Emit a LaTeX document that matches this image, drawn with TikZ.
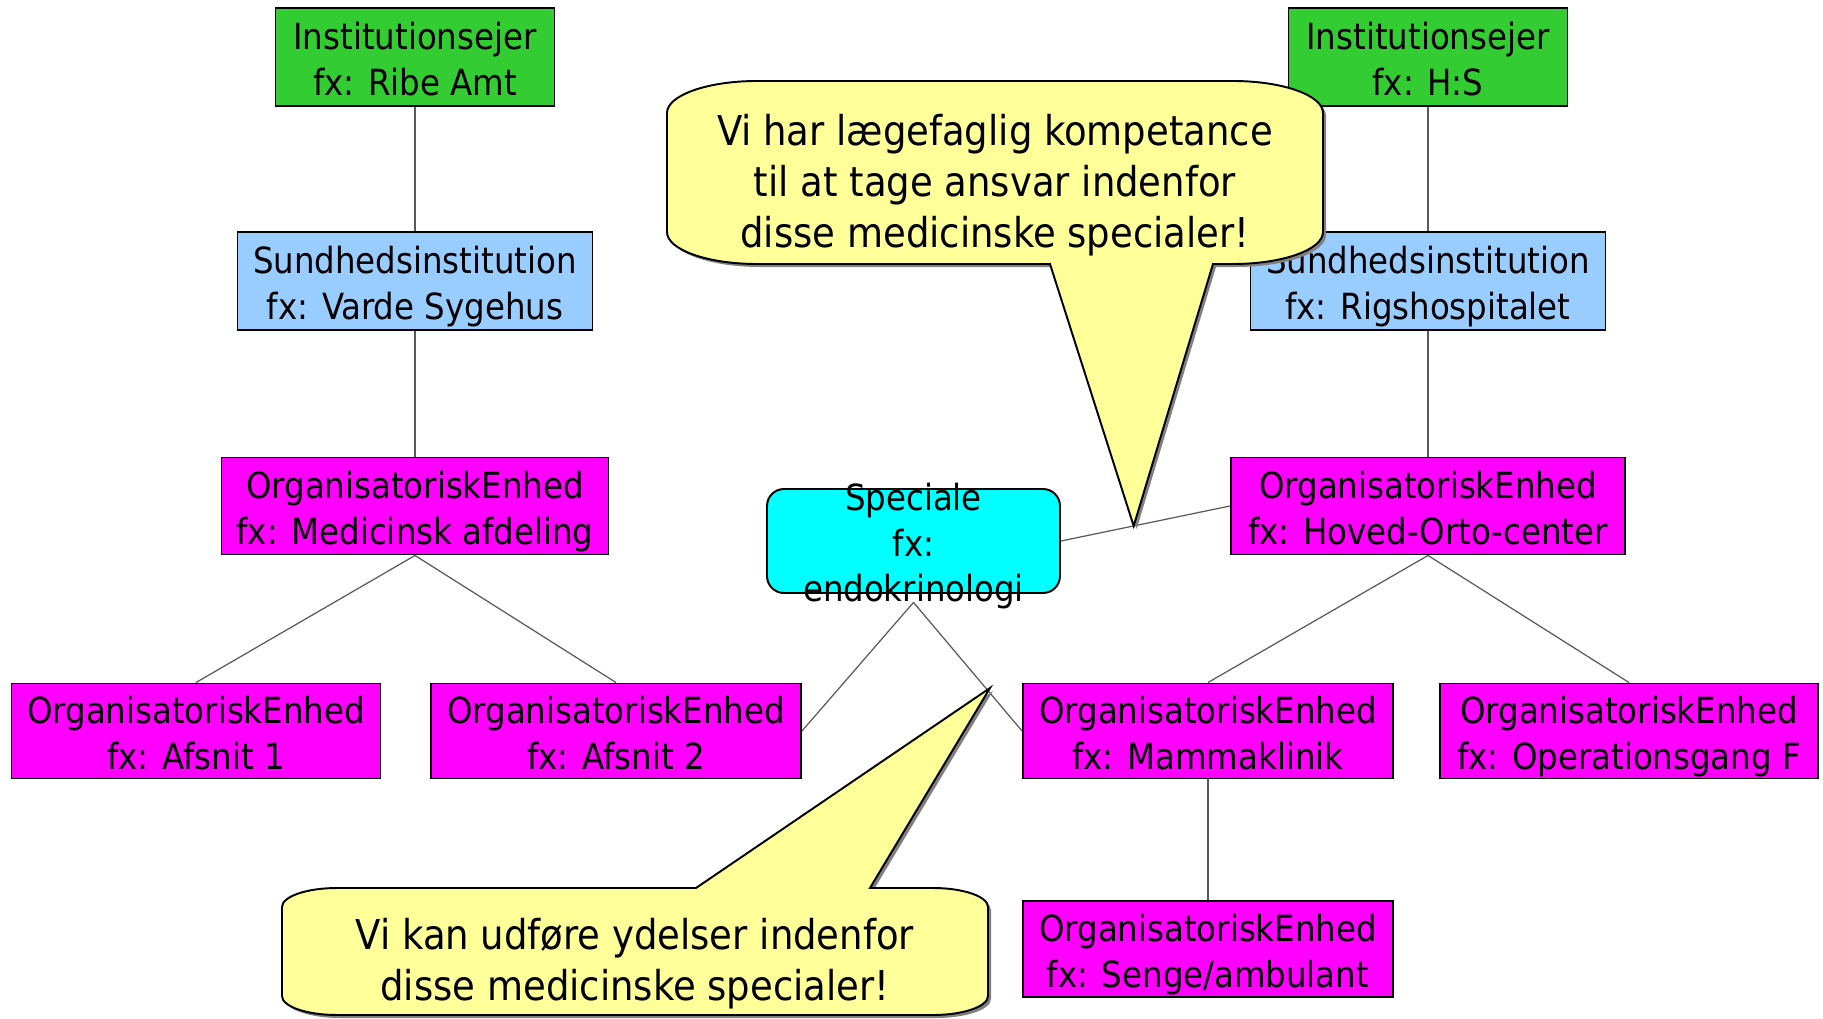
\documentclass[tikz,border=0pt]{standalone}
\usepackage{fontspec}
\setmainfont{DejaVu Sans Condensed}
\usepackage{tikz}
\usetikzlibrary{shadows,calc}
\usepackage{xcolor}
\definecolor{ejergreen}{RGB}{51,204,51}
\definecolor{instblue}{RGB}{153,204,255}
\definecolor{orgmagenta}{RGB}{255,0,255}
\definecolor{speccyan}{RGB}{0,255,255}
\definecolor{bubbleyellow}{RGB}{255,255,153}

\begin{document}
\begin{tikzpicture}[
    box/.style={draw, rectangle, line width=0.55pt, align=center, inner sep=1pt,
        font=\fontsize{10.25pt}{12.9pt}\selectfont, text height=21.7pt, text depth=0pt},
    conn/.style={draw=black!65, line width=0.35pt},
    bubble/.style={draw, line width=0.55pt, fill=bubbleyellow,
        drop shadow={shadow xshift=0.03cm, shadow yshift=-0.03cm, fill=black!50, opacity=1}},
    bubbletext/.style={align=center, inner sep=0pt, font=\fontsize{11.7pt}{14.5pt}\selectfont}
]
    \useasboundingbox (0,0) rectangle (18.23,-10.19);

    % left tree
    \node[box, fill=ejergreen, minimum width=2.79cm, minimum height=0.98cm] (ejer1) at (4.15,-0.57) {Institutionsejer\\fx: Ribe Amt};
    \node[box, fill=instblue, minimum width=3.55cm, minimum height=0.98cm] (inst1) at (4.15,-2.81) {Sundhedsinstitution\\fx: Varde Sygehus};
    \node[box, fill=orgmagenta, minimum width=3.87cm, minimum height=0.97cm] (org1) at (4.15,-5.06) {OrganisatoriskEnhed\\fx: Medicinsk afdeling};
    \node[box, fill=orgmagenta, minimum width=3.69cm, minimum height=0.95cm] (afsnit1) at (1.96,-7.31) {OrganisatoriskEnhed\\fx: Afsnit 1};
    \node[box, fill=orgmagenta, minimum width=3.70cm, minimum height=0.95cm] (afsnit2) at (6.16,-7.31) {OrganisatoriskEnhed\\fx: Afsnit 2};

    % right tree
    \node[box, fill=ejergreen, minimum width=2.79cm, minimum height=0.98cm] (ejer2) at (14.28,-0.57) {Institutionsejer\\fx: H:S};
    \node[box, fill=instblue, minimum width=3.55cm, minimum height=0.98cm] (inst2) at (14.28,-2.81) {Sundhedsinstitution\\fx: Rigshospitalet};
    \node[box, fill=orgmagenta, minimum width=3.94cm, minimum height=0.97cm] (org2) at (14.28,-5.06) {OrganisatoriskEnhed\\fx: Hoved-Orto-center};
    \node[box, fill=orgmagenta, minimum width=3.70cm, minimum height=0.95cm] (mamma) at (12.08,-7.31) {OrganisatoriskEnhed\\fx: Mammaklinik};
    \node[box, fill=orgmagenta, minimum width=3.78cm, minimum height=0.95cm] (opgang) at (16.29,-7.31) {OrganisatoriskEnhed\\fx: Operationsgang F};
    \node[box, fill=orgmagenta, minimum width=3.70cm, minimum height=0.965cm] (senge) at (12.08,-9.49) {OrganisatoriskEnhed\\fx: Senge/ambulant};

    % speciale
    \node[draw, rectangle, rounded corners=0.17cm, line width=0.55pt, fill=speccyan, minimum width=2.93cm, minimum height=1.04cm] (spec) at (9.135,-5.41) {};
    \node[box, draw=none, inner sep=0pt, text height=34.4pt] (spectext) at (9.135,-5.41) {Speciale\\fx:\\endokrinologi};

    \draw[conn] (ejer1) -- (inst1);
    \draw[conn] (inst1) -- (org1);
    \draw[conn] (org1.south) -- (afsnit1.north);
    \draw[conn] (org1.south) -- (afsnit2.north);
    \draw[conn] (ejer2) -- (inst2);
    \draw[conn] (inst2) -- (org2);
    \draw[conn] (org2.south) -- (mamma.north);
    \draw[conn] (org2.south) -- (opgang.north);
    \draw[conn] (mamma) -- (senge);
    \draw[conn] (spectext.south) -- (afsnit2.east);
    \draw[conn] (spectext.south) -- (mamma.west);
    \draw[conn] (spec.east) -- (org2.west);

    % callouts
    \coordinate (tip1) at ($(spec.east)!0.43!(org2.west)$);
    \coordinate (tip2) at (9.90,-6.88);

    \filldraw[bubble] (10.50,-2.64) -- (7.57,-2.64)
        arc[start angle=270, end angle=180, x radius=0.9, y radius=0.32] -- (6.67,-1.13)
        arc[start angle=180, end angle=90, x radius=0.9, y radius=0.32] -- (12.33,-0.81)
        arc[start angle=90, end angle=0, x radius=0.9, y radius=0.32] -- (13.23,-2.32)
        arc[start angle=0, end angle=-90, x radius=0.9, y radius=0.32] -- (12.13,-2.64)
        -- (tip1) -- cycle;
    \node[bubbletext] (tekst1) at (9.95,-1.855) {Vi har lægefaglig kompetance\\til at tage ansvar indenfor\\disse medicinske specialer!};

    \filldraw[bubble] (6.96,-8.88) -- (3.37,-8.88)
        arc[start angle=90, end angle=180, x radius=0.55, y radius=0.19] -- (2.82,-9.96)
        arc[start angle=180, end angle=270, x radius=0.55, y radius=0.19] -- (9.33,-10.15)
        arc[start angle=270, end angle=360, x radius=0.55, y radius=0.19] -- (9.88,-9.07)
        arc[start angle=0, end angle=90, x radius=0.55, y radius=0.19] -- (8.70,-8.88)
        -- (tip2) -- cycle;
    \node[bubbletext] (tekst2) at (6.35,-9.64) {Vi kan udføre ydelser indenfor\\disse medicinske specialer!};
\end{tikzpicture}
\end{document}
